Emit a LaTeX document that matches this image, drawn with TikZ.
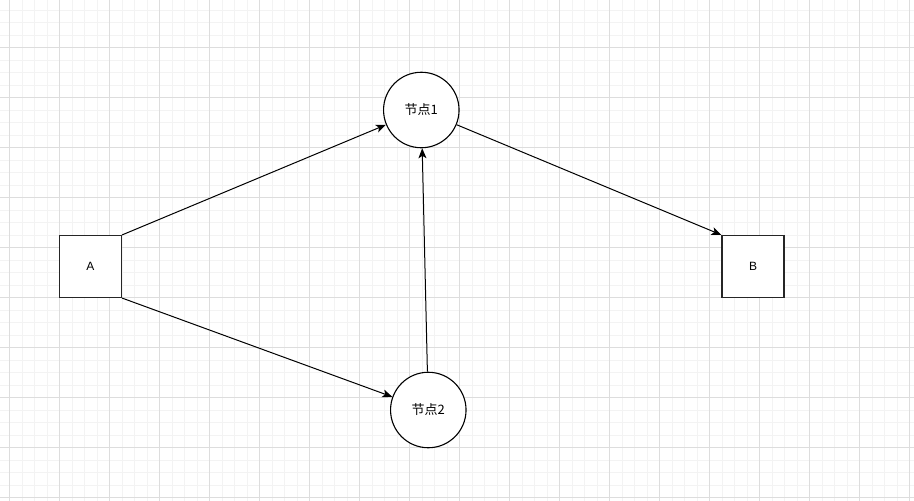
\documentclass[tikz,border=0pt]{standalone}
\usepackage{fontspec}
\setmainfont{Liberation Sans}
\newfontfamily\cjk{Noto Sans CJK SC}
\usetikzlibrary{arrows.meta}
\definecolor{minorgrid}{HTML}{F3F3F3}
\definecolor{majorgrid}{HTML}{DDDDDD}
\tikzset{
  minorline/.style={draw=minorgrid,line width=0.7pt},
  majorline/.style={draw=majorgrid,line width=0.8pt},
  sqnode/.style={draw=black!85,fill=white,line width=1.1pt,minimum size=62pt,inner sep=0pt,font=\fontsize{12pt}{14pt}\selectfont},
  cirnode/.style={draw=black,fill=white,circle,line width=1.1pt,minimum size=75.5pt,inner sep=0pt,font=\cjk\fontsize{13pt}{15pt}\selectfont},
  edge/.style={draw=black,line width=1pt,-{Stealth[length=10pt,width=8pt,inset=2.5pt]}}
}
\begin{document}
\begin{tikzpicture}[x=1pt,y=-1pt]
\useasboundingbox (0,0) rectangle (914,501);
\fill[white] (0,0) rectangle (914,501);
% minor grid
\foreach \i in {0,...,73} {
  \draw[minorline] (9.5+12.5*\i,0) -- (9.5+12.5*\i,501);
}
\foreach \i in {0,...,41} {
  \draw[minorline] (0,-2.5+12.5*\i) -- (914,-2.5+12.5*\i);
}
% major grid
\foreach \i in {0,...,18} {
  \draw[majorline] (9.5+50*\i,0) -- (9.5+50*\i,501);
}
\foreach \i in {0,...,9} {
  \draw[majorline] (0,47.5+50*\i) -- (914,47.5+50*\i);
}
% nodes
\node[sqnode] (A) at (90.5,266.5) {A};
\node[sqnode] (B) at (753,266.5) {B};
\node[cirnode] (n1) at (421.3,110) {节点1};
\node[cirnode] (n2) at (428.3,410) {节点2};
% edges
\draw[edge] (A.north east) -- (n1);
\draw[edge] (A.south east) -- (n2);
\draw[edge] (n2) -- (n1);
\draw[edge] (n1) -- (B.north west);
\end{tikzpicture}
\end{document}
